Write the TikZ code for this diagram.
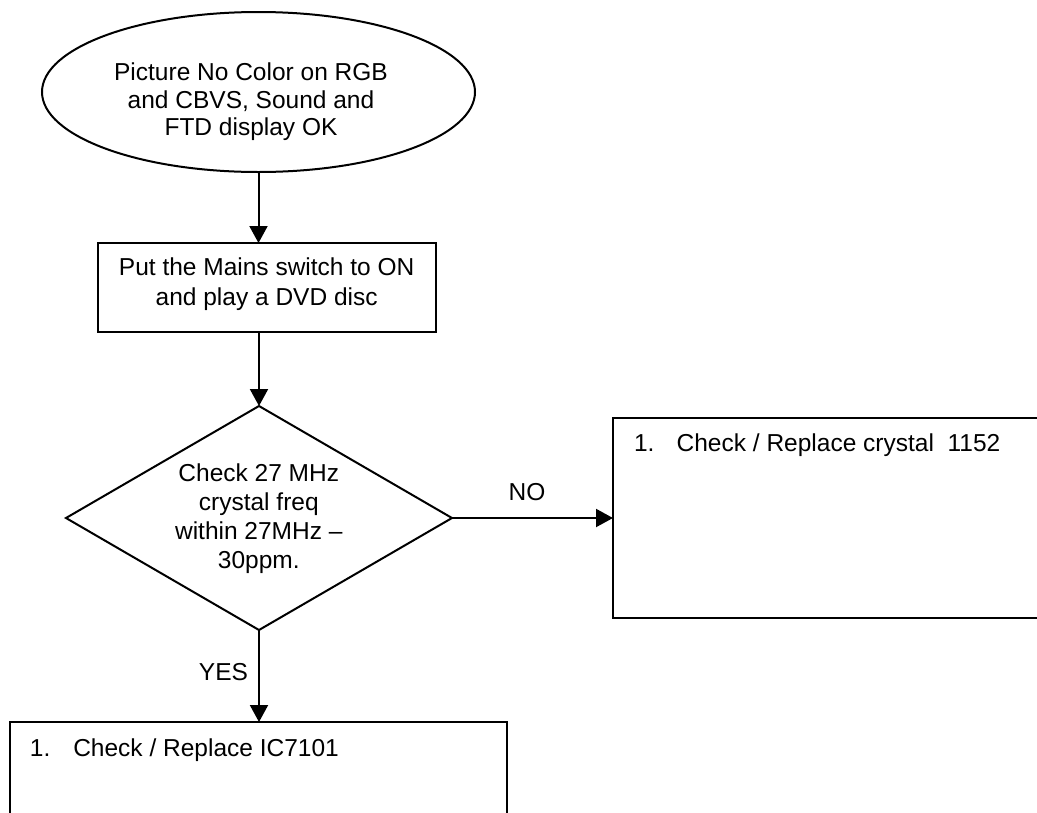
\documentclass[tikz,border=0pt]{standalone}
\usepackage{fontspec}
\setmainfont{Liberation Sans}
\usetikzlibrary{shapes.geometric,arrows.meta}
\begin{document}
\begin{tikzpicture}[x=1pt,y=-1pt,
  every node/.style={inner sep=0pt, outer sep=0pt, font=\fontsize{24.5}{28}\selectfont},
  ln/.style={line width=2pt},
  arr/.style={ln, -{Triangle[length=17pt,width=18pt]}},
  shapebox/.style={draw, ln, rectangle}]
\useasboundingbox (0,0) rectangle (1037,812);
% start ellipse
\node[draw, ln, ellipse, minimum width=433pt, minimum height=160pt] (start) at (258.5,92) {};
\node[align=center, font=\fontsize{24.5}{27.5}\selectfont] (starttext) at (251,102) {Picture No Color on RGB\\and CBVS, Sound and\\FTD display OK};
% step box
\node[shapebox, minimum width=338pt, minimum height=89pt] (box1) at (267,287.5) {};
\node[align=center, font=\fontsize{24.5}{30.3}\selectfont] (box1text) at (266.7,284.5) {Put the Mains switch to ON\\and play a DVD disc};
% decision
\node[draw, ln, diamond, minimum width=386pt, minimum height=224pt] (dec) at (259,518) {};
\node[align=center, font=\fontsize{24.5}{28.9}\selectfont] (dectext) at (258.8,519) {Check 27 MHz\\crystal freq\\within 27MHz --\\30ppm.};
% NO box
\node[shapebox, minimum width=432pt, minimum height=200pt] (fix) at (829,518) {};
\node[anchor=base west] (fixtext) at (634,451) {\makebox[42.7pt][l]{1.}Check / Replace crystal\ \ 1152};
% YES box
\node[shapebox, minimum width=497pt, minimum height=108pt] (yesbox) at (258.5,776) {};
\node[anchor=base west] (yestext) at (30,756.7) {\makebox[43.3pt][l]{1.}Check / Replace IC7101};
% connectors
\draw[arr] (start.south) -- (start.south |- box1.north);
\draw[arr] (dec.north |- box1.south) -- (dec.north);
\draw[arr] (dec.east) -- (fix.west);
\draw[arr] (dec.south) -- (dec.south |- yesbox.north);
% labels
\node[anchor=base] (nolabel) at (527,500) {NO};
\node[anchor=base] (yeslabel) at (223.5,680) {YES};
\end{tikzpicture}
\end{document}
